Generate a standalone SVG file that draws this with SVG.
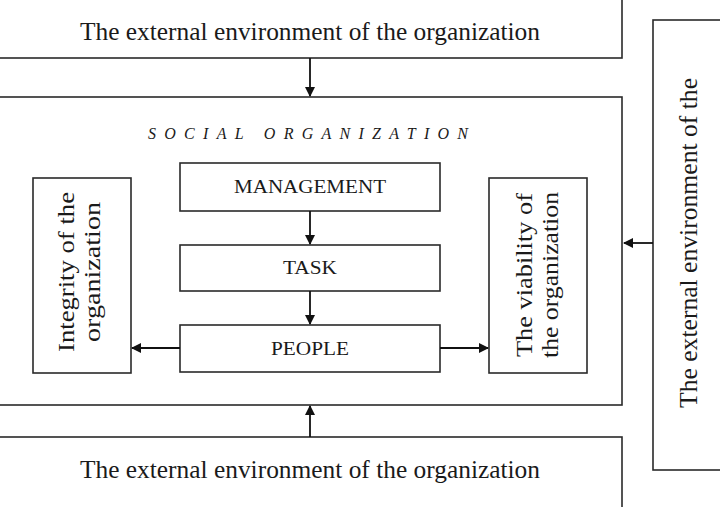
<svg xmlns="http://www.w3.org/2000/svg" width="720" height="507" viewBox="0 0 720 507">
<style>
.box{fill:#fff;stroke:#2a2a2a;stroke-width:1.6}
.t{font-family:"Liberation Serif","Times New Roman",serif;fill:#1a1a1a;text-anchor:middle}
.big{font-size:25px}
.mid{font-size:18px}
.rot{font-size:24px}
.c{stroke:#111;stroke-width:1.8;fill:none}
</style>
<defs>
<marker id="ah2" viewBox="0 0 10 10" refX="9" refY="5" markerWidth="10" markerHeight="10" markerUnits="userSpaceOnUse" orient="auto">
<path d="M0,0 L10,5 L0,10 Z" fill="#111"/>
</marker>
</defs>
<rect width="720" height="507" fill="#fff"/>
<g id="top-env">
<rect class="box" x="-2" y="-2" width="624" height="60"/>
<text class="t big" x="310" y="40" textLength="460" lengthAdjust="spacingAndGlyphs">The external environment of the organization</text>
</g>
<g id="social-org">
<rect class="box" x="-2" y="97" width="624" height="308"/>
<text class="t" x="308" y="139" font-size="16" font-style="italic" textLength="320" lengthAdjust="spacing">SOCIAL ORGANIZATION</text>
</g>
<g id="management">
<rect class="box" x="180" y="163" width="260" height="48"/>
<text class="t mid" x="310" y="193" textLength="152" lengthAdjust="spacingAndGlyphs">MANAGEMENT</text>
</g>
<g id="task">
<rect class="box" x="180" y="245" width="260" height="46"/>
<text class="t mid" x="310" y="274" textLength="54" lengthAdjust="spacingAndGlyphs">TASK</text>
</g>
<g id="people">
<rect class="box" x="180" y="325" width="260" height="47"/>
<text class="t mid" x="310" y="355" textLength="78" lengthAdjust="spacingAndGlyphs">PEOPLE</text>
</g>
<g id="integrity">
<rect class="box" x="33" y="178" width="98" height="195"/>
<text class="t rot" transform="translate(82,272) rotate(-90)"><tspan x="0" y="-8" textLength="160" lengthAdjust="spacingAndGlyphs">Integrity of the</tspan><tspan x="0" y="18" textLength="140" lengthAdjust="spacingAndGlyphs">organization</tspan></text>
</g>
<g id="viability">
<rect class="box" x="489" y="178" width="98" height="195"/>
<text class="t rot" transform="translate(538,275) rotate(-90)"><tspan x="0" y="-6" textLength="164" lengthAdjust="spacingAndGlyphs">The viability of</tspan><tspan x="0" y="20" textLength="166" lengthAdjust="spacingAndGlyphs">the organization</tspan></text>
</g>
<g id="bottom-env">
<rect class="box" x="-2" y="437" width="624" height="80"/>
<text class="t big" x="310" y="478" textLength="460" lengthAdjust="spacingAndGlyphs">The external environment of the organization</text>
</g>
<g id="right-env">
<rect class="box" x="653" y="20" width="80" height="450"/>
<text class="t big" transform="translate(697,243) rotate(-90)" x="0" y="0" textLength="330" lengthAdjust="spacingAndGlyphs">The external environment of the</text>
</g>
<g id="connectors">
<line class="c" x1="310" y1="58" x2="310" y2="96" marker-end="url(#ah2)"/>
<line class="c" x1="310" y1="211" x2="310" y2="244" marker-end="url(#ah2)"/>
<line class="c" x1="310" y1="291" x2="310" y2="324" marker-end="url(#ah2)"/>
<line class="c" x1="180" y1="348" x2="132" y2="348" marker-end="url(#ah2)"/>
<line class="c" x1="440" y1="348" x2="488" y2="348" marker-end="url(#ah2)"/>
<line class="c" x1="310" y1="437" x2="310" y2="406" marker-end="url(#ah2)"/>
<line class="c" x1="653" y1="243" x2="624" y2="243" marker-end="url(#ah2)"/>
</g>
</svg>
